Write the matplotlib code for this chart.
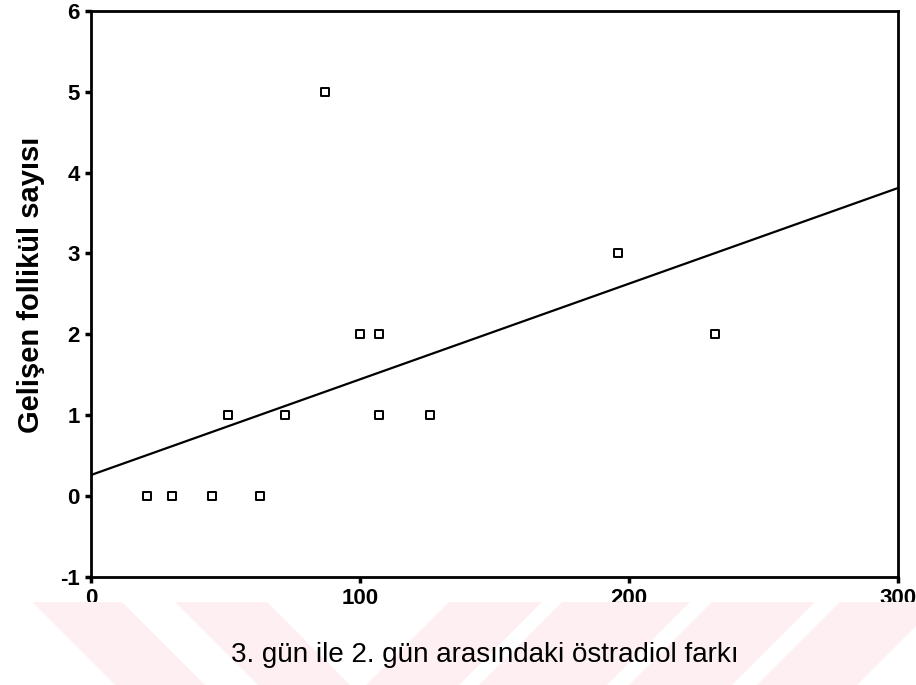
import numpy as np
import matplotlib.pyplot as plt
from matplotlib.patches import Polygon

# 3. gün ile 2. gün arasındaki östradiol farkı vs gelişen follikül sayısı
estradiol_diff = [21, 30, 45, 63, 51, 72, 87, 100, 107, 107, 126, 196, 232]
follicle_count = [0, 0, 0, 0, 1, 1, 5, 2, 2, 1, 1, 3, 2]
x_ticks = [0, 100, 200, 300]
y_ticks = [-1, 0, 1, 2, 3, 4, 5, 6]

plt.rcParams['font.family'] = ['Liberation Sans', 'DejaVu Sans']
plt.rcParams['axes.unicode_minus'] = False

fig = plt.figure(figsize=(9.16, 6.85), dpi=100)
ax = fig.add_axes([0.0993, 0.158, 0.8807, 0.826])

# faint pink watermark stripes at the bottom (figure pixel space)
W, H = 916.0, 685.0
top, bot = 602, 685
for a, b in [(32, 122), (175, 267)]:
    pts = [(a, top), (b, top), (b + 83, bot), (a + 83, bot)]
    fig.patches.append(Polygon([(p / W, 1 - q / H) for p, q in pts],
                               closed=True, transform=fig.transFigure,
                               facecolor='#fef0f2', edgecolor='none', zorder=0))
for a, b in [(449, 542), (562, 690), (712, 815), (840, 940)]:
    pts = [(a, top), (b, top), (b - 83, bot), (a - 83, bot)]
    fig.patches.append(Polygon([(p / W, 1 - q / H) for p, q in pts],
                               closed=True, transform=fig.transFigure,
                               facecolor='#fef0f2', edgecolor='none', zorder=0))

ax.scatter(estradiol_diff, follicle_count, marker='s', s=40,
           facecolors='white', edgecolors='black', linewidths=1.4, zorder=3)

# least squares fit line
slope, intercept = np.polyfit(estradiol_diff, follicle_count, 1)
xs = np.array([0, 300])
ax.plot(xs, intercept + slope * xs, color='black', lw=1.6, zorder=2)

ax.set_xlim(0, 300)
ax.set_ylim(-1, 6)
ax.set_xticks(x_ticks)
ax.set_yticks(y_ticks)
ax.tick_params(direction='out', length=4, width=2.5, labelsize=16, pad=4)
for lbl in ax.get_xticklabels() + ax.get_yticklabels():
    lbl.set_fontweight('bold')
for s in ax.spines.values():
    s.set_linewidth(2)

fig.text(31 / W, 1 - 285 / H, 'Gelişen follikül sayısı', rotation=90,
         ha='center', va='center', fontsize=21, fontweight='bold')
fig.text(485 / W, 1 - 655 / H, '3. gün ile 2. gün arasındaki östradiol farkı',
         ha='center', va='center', fontsize=20)

fig.savefig('out.png', dpi=100)
